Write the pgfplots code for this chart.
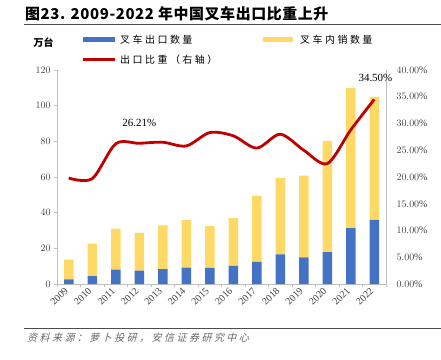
\documentclass[border=0pt]{standalone}
\usepackage{pgfplots}
\pgfplotsset{compat=1.18}
\usepackage{fontspec}
\setmainfont{Liberation Serif}
\newfontfamily\cjk{Noto Sans CJK SC}
\newfontfamily\cjkt[LetterSpace=4]{Noto Sans CJK SC}
\newfontfamily\cjkls[LetterSpace=25]{Noto Sans CJK SC}
\newfontfamily\cjkit[FakeSlant=0.25,LetterSpace=25]{Noto Sans CJK SC}
\definecolor{cblue}{HTML}{4472C4}
\definecolor{cyel}{HTML}{FFD966}
\definecolor{cred}{HTML}{C00000}
\definecolor{axgray}{HTML}{BFBFBF}
\definecolor{txt}{HTML}{404040}
\pgfplotstableread{
x exp dom ratio
0 2.6 11.1 19.8
1 4.4 18.3 19.7
2 8.1 22.9 26.21
3 7.5 21.2 26.3
4 8.4 24.5 26.5
5 9.2 26.7 25.8
6 9.0 23.5 28.3
7 10.1 26.9 27.7
8 12.4 37.2 25.4
9 16.6 42.9 28.0
10 15.0 45.8 25.0
11 17.9 62.3 22.5
12 31.4 78.6 28.8
13 35.9 69.1 34.5
}\datatable
\begin{document}
\begin{tikzpicture}[x=1bp,y=1bp]
\useasboundingbox (0,0) rectangle (441,359);
% title
\node[anchor=west,inner sep=0] at (25,345) {\cjkt\bfseries\fontsize{15}{15}\selectfont 图23. 2009-2022 年中国叉车出口比重上升};
\draw[black!70,line width=0.8bp] (24,335) -- (441,335);
% unit
\node[inner sep=0] at (43.5,316) {\cjk\bfseries\fontsize{10}{10}\selectfont 万台};
% legend
\fill[cblue] (83,316.7) rectangle (115,322.3);
\node[anchor=west,inner sep=0] at (120,319.5) {\cjkls\fontsize{10}{10}\selectfont 叉车出口数量};
\fill[cyel] (263,316.7) rectangle (293,322.3);
\node[anchor=west,inner sep=0] at (300,319.5) {\cjkls\fontsize{10}{10}\selectfont 叉车内销数量};
\draw[cred,line width=3bp] (83,299.7) -- (115,299.7);
\node[anchor=west,inner sep=0] at (120,299.7) {\cjkls\fontsize{10}{10}\selectfont 出口比重（右轴）};
% footer
\draw[black!70,line width=0.8bp] (24,31) -- (441,31);
\node[anchor=west,inner sep=0,text=black!60] at (27,21) {\cjkit\fontsize{10}{10}\selectfont 资料来源：萝卜投研，安信证券研究中心};
\begin{axis}[
  scale only axis, width=329bp, height=214bp,
  at={(57bp,75bp)}, anchor=south west,
  xmin=-0.5, xmax=13.5, ymin=0, ymax=120,
  ytick={0,20,...,120},
  axis y line*=left, axis x line*=bottom,
  axis line style={axgray, line width=0.8bp},
  xtick={0,...,13},
  xticklabels={2009,2010,2011,2012,2013,2014,2015,2016,2017,2018,2019,2020,2021,2022},
  minor xtick={-0.5,0.5,...,13.5},
  major x tick style={draw=none},
  minor x tick style={axgray, line width=0.8bp},
  y tick style={axgray, line width=0.8bp},
  tick align=outside, major tick length=3bp, minor tick length=3bp,
  x tick label style={rotate=45, anchor=east, font=\fontsize{10}{10}\selectfont, text=txt},
  y tick label style={font=\fontsize{10}{10}\selectfont, text=txt},
  ybar stacked, bar width=9.5bp,
]
\addplot[fill=cblue, draw=none] table[x=x,y=exp]{\datatable};
\addplot[fill=cyel, draw=none] table[x=x,y=dom]{\datatable};
\end{axis}
\begin{axis}[
  scale only axis, width=329bp, height=214bp,
  at={(57bp,75bp)}, anchor=south west,
  xmin=-0.5, xmax=13.5, ymin=0, ymax=40,
  ytick={0,5,...,40},
  axis y line*=right, axis x line=none,
  axis line style={axgray, line width=0.8bp},
  y tick style={draw=none},
  yticklabel={\pgfmathprintnumber[fixed,fixed zerofill,precision=2]{\tick}\%},
  y tick label style={font=\fontsize{10}{10}\selectfont, text=txt, xshift=7bp},
  clip=false,
]
\addplot[cred, line width=2.8bp, smooth, tension=0.5] table[x=x,y=ratio]{\datatable};
\node[font=\fontsize{11}{11}\selectfont] at (axis cs:3,30.1) {26.21\%};
\node[font=\fontsize{11}{11}\selectfont] at (axis cs:13.05,38.5) {34.50\%};
\end{axis}
\end{tikzpicture}
\end{document}
